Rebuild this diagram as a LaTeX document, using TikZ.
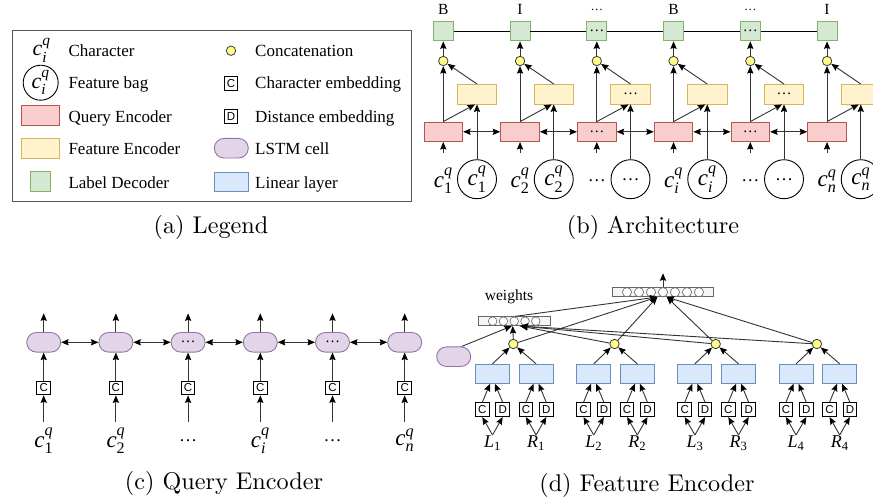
\documentclass[tikz,border=0pt]{standalone}
\usepackage{fontspec}
\usepackage{amsmath}
\usetikzlibrary{arrows.meta}
\newfontfamily\tms{Liberation Serif}
\newfontfamily\hlv{Liberation Sans}
\font\capfnt="[lmroman10-regular.otf]" at 24.2pt
\definecolor{qencF}{HTML}{F8CECC}\definecolor{qencD}{HTML}{B85450}
\definecolor{fencF}{HTML}{FFF2CC}\definecolor{fencD}{HTML}{D6B656}
\definecolor{ldecF}{HTML}{D5E8D4}\definecolor{ldecD}{HTML}{82B366}
\definecolor{lstmF}{HTML}{E1D5E7}\definecolor{lstmD}{HTML}{9673A6}
\definecolor{linF}{HTML}{DAE8FC}\definecolor{linD}{HTML}{6C8EBF}
\definecolor{catF}{HTML}{FFFF88}\definecolor{catD}{HTML}{36393D}
\definecolor{vecF}{HTML}{F5F5F5}\definecolor{vecD}{HTML}{666666}
\definecolor{legD}{HTML}{555555}
\definecolor{lnC}{HTML}{333333}
\newcommand\fLeg{\tms\fontsize{17}{20}\selectfont}
\newcommand\fMath{\tms\fontsize{23}{27}\selectfont}
\newcommand\fLgM{\tms\fontsize{22}{26}\selectfont}
\newcommand\fTop{\tms\fontsize{15.5}{18}\selectfont}
\newcommand\fEmb{\hlv\fontsize{11.5}{13}\selectfont}
\newcommand\fLR{\tms\fontsize{18}{21}\selectfont}
\newcommand\fDot{\tms\fontsize{15}{17}\selectfont}
\newcommand\cqlab[1]{\textit{c}$^{\textit{q}}_{#1}$}
\newcommand\lrlab[2]{\textit{#1}$_{\text{#2}}$}
\newcommand\bdots{{\tms\fontsize{18}{20}\selectfont\char"2026}}
\newcommand\sdots{{\tms\fontsize{15}{17}\selectfont\char"2026}}
\newcommand\tdots{{\tms\fontsize{12.5}{14}\selectfont\char"2026}}
\begin{document}
\begin{tikzpicture}[x=1pt,y=-1pt,
 lw/.style={line width=0.9pt},
 tip/.tip={Stealth[length=7.5pt,width=6.2pt,inset=1pt,color=black]},
 arr/.style={lw, lnC, -tip},
 darr/.style={lw, lnC, tip-tip},
 bx/.style={rectangle, line width=0.9pt, inner sep=0pt},
 qenc/.style={bx, draw=qencD, fill=qencF, minimum width=38.7pt, minimum height=19.5pt, font=\fDot},
 fenc/.style={bx, draw=fencD, fill=fencF, minimum width=39.4pt, minimum height=19.5pt, font=\fDot},
 ldec/.style={bx, draw=ldecD, fill=ldecF, minimum width=19.8pt, minimum height=19.8pt, font=\fDot},
 lstm/.style={bx, draw=lstmD, fill=lstmF, rounded corners=9.8pt, minimum width=34pt, minimum height=19.6pt, font=\fDot},
 lin/.style={bx, draw=linD, fill=linF, minimum width=34pt, minimum height=19pt},
 cat/.style={circle, draw=catD, fill=catF, line width=0.8pt, minimum size=9.4pt, inner sep=0pt},
 emb/.style={bx, draw=black, fill=white, line width=0.9pt, minimum width=13.6pt, minimum height=13.8pt, font=\fEmb},
 bag/.style={circle, draw=black, line width=0.9pt, minimum size=39pt, inner sep=0pt, font=\fMath},
 vec/.style={bx, draw=vecD, fill=vecF, line width=0.7pt, minimum height=9pt},
 legtxt/.style={anchor=base west, font=\fLeg, inner sep=0pt},
 captxt/.style={font=\capfnt, inner sep=0pt},
]
\useasboundingbox (0,0) rectangle (873,501);

% ---------------- (a) Legend ----------------
\node[bx, draw=legD, line width=1pt, minimum width=399pt, minimum height=171pt] (leg) at (211.5,115.5) {};
\node[font=\fLgM, inner sep=0pt] (lg1) at (41.7,50) {\cqlab{\textit{i}}};
\node[bag, minimum size=35pt, font=\fLgM] (lg2) at (40.7,82.7) {\cqlab{\textit{i}}};
\node[qenc] (lg3) at (40.5,115.5) {};
\node[fenc, minimum width=38.7pt] (lg4) at (40.5,148.5) {};
\node[ldec] (lg5) at (40.8,181.7) {};
\node[cat] (lg6) at (231,50.7) {};
\node[emb] (lg7) at (231,83.3) {C};
\node[emb] (lg8) at (231,116.7) {D};
\node[lstm] (lg9) at (231.3,148.2) {};
\node[lin] (lg10) at (231.3,182.2) {};
\node[legtxt] (lt1) at (68.3,56.4) {Character};
\node[legtxt] (lt2) at (68.3,88.2) {Feature bag};
\node[legtxt] (lt3) at (68.3,122.4) {Query Encoder};
\node[legtxt] (lt4) at (68.3,154) {Feature Encoder};
\node[legtxt] (lt5) at (68.3,188) {Label Decoder};
\node[legtxt] (lt6) at (255,56.4) {Concatenation};
\node[legtxt] (lt7) at (255,88.8) {Character embedding};
\node[legtxt] (lt8) at (255,122.4) {Distance embedding};
\node[legtxt] (lt9) at (255,154) {LSTM cell};
\node[legtxt] (lt10) at (255,188) {Linear layer};
\node[captxt] (capa) at (211,227) {(a) Legend};

% ---------------- (b) Architecture ----------------
\foreach \k/\tl/\il/\cl in {0/B/{}/{\cqlab{\text{1}}},1/I/{}/{\cqlab{\text{2}}},2/{\tdots}/{\sdots}/{\bdots},3/B/{}/{\cqlab{\textit{i}}},4/{\tdots}/{\sdots}/{\bdots},5/I/{}/{\cqlab{\textit{n}}}}{
  \pgfmathsetmacro\x{443.3+76.75*\k}
  \pgfmathsetmacro\xx{\x+33.7}
  \node[font=\fTop, inner sep=0pt] (tl\k) at (\x,9.5) {\tl};
  \node[ldec] (grn\k) at (\x,31) {\il};
  \node[cat] (cat\k) at (\x,61) {};
  \node[fenc] (yel\k) at (\xx,94.2) {\il};
  \node[qenc] (red\k) at (\x,131.8) {\il};
  \node[bag] (bag\k) at (\xx,179.2) {\cl};
  \node[font=\fMath, inner sep=0pt] (cl\k) at (\x,181) {\cl};
  \coordinate (cin\k) at (\x,152.5);
  \draw[arr] (cin\k) -- (red\k.south);
  \draw[arr] (red\k.north) -- (cat\k.south);
  \draw[arr] (red\k.north) -- ([xshift=-2pt]yel\k.south);
  \draw[arr] (bag\k.north) -- (yel\k.south);
  \draw[arr] (yel\k.north) -- (cat\k);
  \draw[arr] (cat\k.north) -- (grn\k.south);
}
\foreach \k [evaluate=\k as \n using int(\k+1)] in {0,...,4}{
  \draw[lw, black] (grn\k.east) -- (grn\n.west);
  \draw[darr] (red\k.east) -- (red\n.west);
}
\node[captxt] (capb) at (653,227) {(b) Architecture};

% ---------------- (c) Query Encoder ----------------
\foreach \k/\il/\cl in {0/{}/{\cqlab{\text{1}}},1/{}/{\cqlab{\text{2}}},2/{\sdots}/{\bdots},3/{}/{\cqlab{\textit{i}}},4/{\sdots}/{\bdots},5/{}/{\cqlab{\textit{n}}}}{
  \pgfmathsetmacro\x{43.7+72.2*\k}
  \node[lstm] (ls\k) at (\x,342.3) {\il};
  \node[emb] (ce\k) at (\x,388) {C};
  \node[font=\fMath, inner sep=0pt] (cc\k) at (\x,440.5) {\cl};
  \coordinate (ct\k) at (\x,421.7);
  \coordinate (co\k) at (\x,313.3);
  \draw[arr] (ct\k) -- (ce\k.south);
  \draw[arr] (ce\k.north) -- (ls\k.south);
  \draw[arr] (ls\k.north) -- (co\k);
}
\foreach \k [evaluate=\k as \n using int(\k+1)] in {0,...,4}{
  \draw[darr] (ls\k.east) -- (ls\n.west);
}
\node[captxt] (capc) at (224,483) {(c) Query Encoder};

% ---------------- (d) Feature Encoder ----------------
\node[vec, minimum width=100.6pt] (tv) at (663,292.2) {};
\foreach \m in {0,...,6} \draw[vecD, fill=white, line width=0.6pt] ({663+12*(\m-3)},292.2) circle[radius=4.6pt];
\node[vec, minimum width=71.7pt] (wts) at (514.2,321.2) {};
\foreach \m in {0,...,4} \draw[vecD, fill=white, line width=0.6pt] ({514.2+10.8*(\m-2)},321.2) circle[radius=4.3pt];
\node[font=\fTop, inner sep=0pt] (wlab) at (509,297) {weights};
\node[lstm] (dl) at (453.7,356.7) {};
\coordinate (tout) at (663,273.3);
\draw[arr] (tv.north) -- (tout);
\foreach \j in {1,2,3,4}{
  \pgfmathsetmacro\xl{492.5+101.2*(\j-1)}
  \pgfmathsetmacro\xr{\xl+43.6}
  \pgfmathsetmacro\xc{(\xl+\xr)/2-1}
  \node[cat] (dc\j) at (\xc,344) {};
  \node[lin] (bl\j) at (\xl,373.8) {};
  \node[lin] (br\j) at (\xr,373.8) {};
  \node[emb] (blc\j) at (\xl-10.2,409.7) {C};
  \node[emb] (bld\j) at (\xl+10.2,409.7) {D};
  \node[emb] (brc\j) at (\xr-10.2,409.7) {C};
  \node[emb] (brd\j) at (\xr+10.2,409.7) {D};
  \node[font=\fLR, inner sep=0pt] (ll\j) at (\xl,443) {\lrlab{L}{\j}};
  \node[font=\fLR, inner sep=0pt] (lr\j) at (\xr,443) {\lrlab{R}{\j}};
  \coordinate (lt\j) at (\xl,435);
  \coordinate (rt\j) at (\xr,435);
  \draw[arr] (lt\j) -- (blc\j.south);
  \draw[arr] (lt\j) -- (bld\j.south);
  \draw[arr] (rt\j) -- (brc\j.south);
  \draw[arr] (rt\j) -- (brd\j.south);
  \draw[arr] (blc\j.north) -- ([xshift=-2.5pt]bl\j.south);
  \draw[arr] (bld\j.north) -- ([xshift=2.5pt]bl\j.south);
  \draw[arr] (brc\j.north) -- ([xshift=-2.5pt]br\j.south);
  \draw[arr] (brd\j.north) -- ([xshift=2.5pt]br\j.south);
  \draw[arr] (bl\j.north) -- (dc\j);
  \draw[arr] (br\j.north) -- (dc\j);
}
\coordinate (wA) at ([xshift=-2.5pt]wts.south);
\coordinate (wB) at ([xshift=6pt]wts.south);
\coordinate (tA) at ([xshift=-5.7pt]tv.south);
\coordinate (tB) at ([xshift=3.7pt]tv.south);
\draw[arr] ([xshift=8pt]dl.north) -- (wA);
\draw[arr] (dc1.north) -- ([xshift=-1.5pt]wts.south);
\foreach \j in {2,3,4} \draw[arr] (dc\j) -- (wB);
\draw[arr] ([xshift=1pt]wts.north) -- (tA);
\draw[arr] (dc1) -- (tA);
\draw[arr] (dc2) -- (tA);
\draw[arr] (dc3) -- (tB);
\draw[arr] (dc4) -- (tB);
\node[captxt] (capd) at (647,485) {(d) Feature Encoder};
\end{tikzpicture}
\end{document}
